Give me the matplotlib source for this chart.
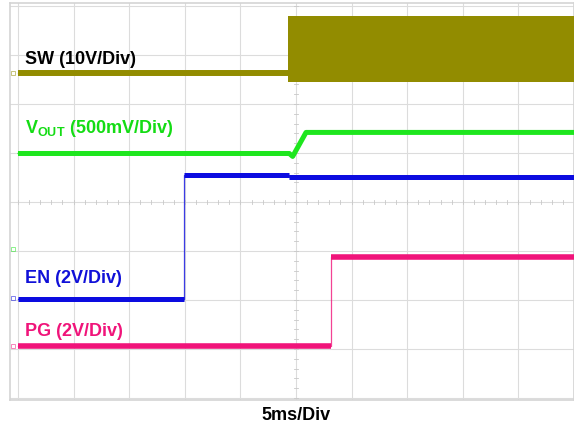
import matplotlib
matplotlib.use('Agg')
import matplotlib.pyplot as plt

plt.rcParams['font.family'] = ['Liberation Sans', 'DejaVu Sans']
plt.rcParams['mathtext.fontset'] = 'custom'
plt.rcParams['mathtext.bf'] = 'Liberation Sans:bold'
plt.rcParams['mathtext.rm'] = 'Liberation Sans'

# scope setup: 5 ms/div, 10 x 8 divisions
ms_per_div = 5
n_xdiv = 10
n_ydiv = 8

# trace positions in screen divisions, time in ms
sw_t = [0, 24.3]
sw_div = [6.64, 6.64]
sw_burst_t = [24.3, 50]
sw_burst_lo = 6.44
sw_burst_hi = 7.80

vout_t = [0, 24.4, 24.7, 25.9, 50]
vout_div = [4.99, 4.99, 4.93, 5.42, 5.42]

en_t = [0, 14.9, 14.9, 24.4, 24.4, 50]
en_div = [2.02, 2.02, 4.56, 4.56, 4.50, 4.50]

pg_t = [0, 28.15, 28.15, 50]
pg_div = [1.06, 1.06, 2.87, 2.87]

# channel ground markers on the left edge
gnd_div = [6.64, 3.05, 2.04, 1.06]

c_sw = '#928c00'
c_vout = '#1ee61e'
c_en = '#0c0ce0'
c_pg = '#f0147a'


def draw_trace(ax, t, v, color, lw):
    # thin line for the vertical edges, thick line for the flat/ramp parts
    ax.plot(t, v, color=color, lw=0.9, alpha=0.8, zorder=3)
    run_t, run_v = [t[0]], [v[0]]
    for i in range(1, len(t)):
        if t[i] == t[i - 1]:
            ax.plot(run_t, run_v, color=color, lw=lw,
                    solid_capstyle='butt', solid_joinstyle='round', zorder=4)
            run_t, run_v = [t[i]], [v[i]]
        else:
            run_t.append(t[i])
            run_v.append(v[i])
    ax.plot(run_t, run_v, color=color, lw=lw,
            solid_capstyle='butt', solid_joinstyle='round', zorder=4)


fig = plt.figure(figsize=(5.74, 4.25), dpi=100)
ax = fig.add_axes([10 / 574, 25 / 425, 564 / 574, 397 / 425])

x0 = -8 / 55.6 * ms_per_div
ax.set_xlim(x0, n_xdiv * ms_per_div)
ax.set_ylim(-2 / 49.1, 8 + 3 / 49.1)
ax.set_xticks([])
ax.set_yticks([])
for s in ax.spines.values():
    s.set_color('#d4d4d4')
    s.set_linewidth(1.2)

# graticule
for i in range(n_xdiv + 1):
    ax.axvline(i * ms_per_div, color='#dcdcdc', lw=0.8, zorder=1)
for j in range(n_ydiv + 1):
    ax.axhline(j, color='#dcdcdc', lw=0.8, zorder=1)

# minor ticks on the centre lines
xc = n_xdiv / 2 * ms_per_div
for k in range(n_ydiv * 5 + 1):
    ax.plot([xc - 0.15, xc + 0.15], [k * 0.2, k * 0.2], color='#c8c8c8', lw=0.6, zorder=1)
for k in range(n_xdiv * 5 + 1):
    ax.plot([k * ms_per_div / 5] * 2, [4 - 0.05, 4 + 0.05], color='#c8c8c8', lw=0.6, zorder=1)

# SW: flat before start-up, switching burst afterwards
draw_trace(ax, sw_t, sw_div, c_sw, 4.3)
ax.fill_between(sw_burst_t, sw_burst_lo, sw_burst_hi, color=c_sw, lw=0, zorder=4)

draw_trace(ax, vout_t, vout_div, c_vout, 3.6)
draw_trace(ax, en_t, en_div, c_en, 3.6)
draw_trace(ax, pg_t, pg_div, c_pg, 4.0)

for g, c in zip(gnd_div, [c_sw, c_vout, c_en, c_pg]):
    ax.plot(-0.45, g, marker='s', ms=3, mfc='none', mec=c, mew=0.6, alpha=0.6, zorder=5)

tx = 0.63
ax.text(tx, 6.81, 'SW (10V/Div)', color='black', fontsize=13, fontweight='bold', va='baseline', zorder=6)
ax.text(tx, 5.41, r'$\mathbf{V_{OUT}}$ (500mV/Div)', color='#14dc14', fontsize=13,
        fontweight='bold', va='baseline', zorder=6)
ax.text(tx, 2.35, 'EN (2V/Div)', color='#1010d8', fontsize=13, fontweight='bold', va='baseline', zorder=6)
ax.text(tx, 1.27, 'PG (2V/Div)', color='#f0147a', fontsize=13, fontweight='bold', va='baseline', zorder=6)

fig.text(296 / 574, 5 / 425, '5ms/Div', ha='center', va='baseline', fontsize=13, fontweight='bold')

fig.savefig('out.png', dpi=100)
